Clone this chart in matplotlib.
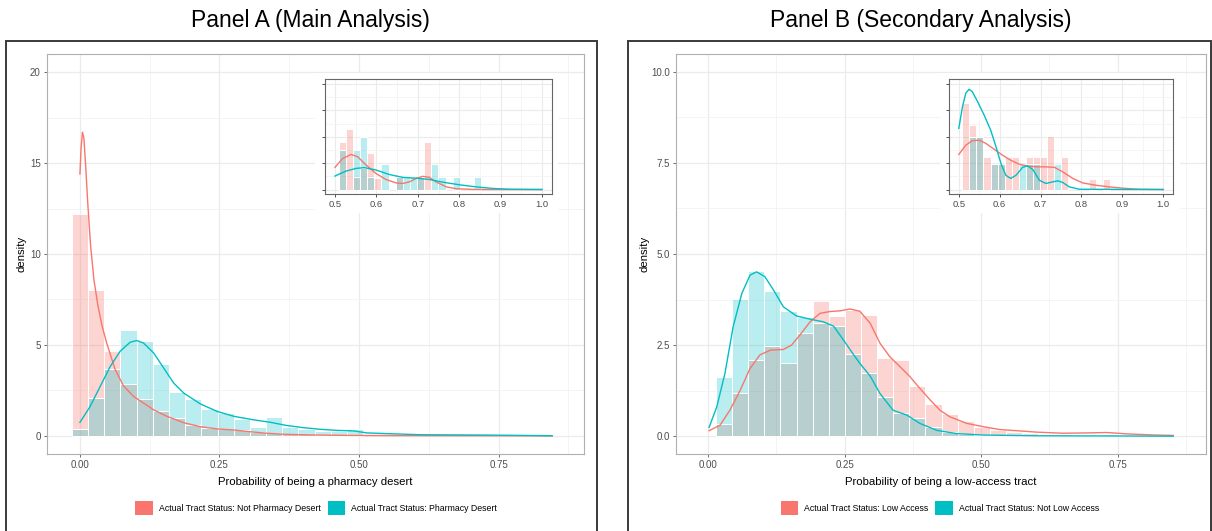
import matplotlib.pyplot as plt
from matplotlib.patches import Patch, Rectangle
import numpy as np

plt.rcParams['font.family'] = ['Liberation Sans', 'DejaVu Sans']

RED = '#F8766D'
TEAL = '#00BFC4'

# ---- Panel A (main analysis) ----
a_bin_width = 0.029
a_hist_not_desert = [12.2, 8.0, 4.65, 2.85, 2.0, 1.34, 1.0, 0.57, 0.42, 0.37,
                     0.3, 0.2, 0.15, 0.1, 0.08, 0.06, 0.05, 0.05]
a_hist_desert = [0.37, 2.1, 3.7, 5.8, 5.24, 3.97, 2.4, 2.0, 1.5, 1.25,
                 0.93, 0.51, 1.01, 0.46, 0.38, 0.27, 0.27, 0.38]
a_kde_x_not_desert = [0.0, 0.002, 0.0045, 0.007, 0.01, 0.014, 0.019, 0.025, 0.032,
                      0.04, 0.048, 0.063, 0.078, 0.096, 0.114, 0.132, 0.156, 0.186,
                      0.216, 0.246, 0.276, 0.306, 0.336, 0.37, 0.43, 0.49, 0.6, 0.75, 0.846]
a_kde_y_not_desert = [14.4, 15.8, 16.7, 16.4, 15.0, 12.8, 10.5, 8.6, 7.2,
                      6.0, 5.1, 3.65, 2.75, 2.17, 1.8, 1.43, 1.07, 0.72,
                      0.5, 0.38, 0.32, 0.22, 0.14, 0.08, 0.04, 0.02, 0.01, 0.005, 0.0]
a_kde_x_desert = [0.0, 0.018, 0.036, 0.054, 0.072, 0.09, 0.102, 0.114, 0.132, 0.15,
                  0.168, 0.186, 0.216, 0.246, 0.276, 0.311, 0.34, 0.37, 0.4, 0.43,
                  0.46, 0.49, 0.514, 0.561, 0.609, 0.729, 0.8, 0.846]
a_kde_y_desert = [0.74, 1.6, 2.7, 3.8, 4.65, 5.15, 5.24, 5.1, 4.56, 3.73,
                  2.9, 2.35, 1.75, 1.34, 1.07, 0.88, 0.75, 0.57, 0.45, 0.36,
                  0.3, 0.27, 0.16, 0.11, 0.06, 0.04, 0.02, 0.0]

# inset A (probabilities above 0.5), bins centred on 0.5 + k*w
inset_bin_width = 0.01724
a_inset_not_desert = [1.82, 2.3, 0.46, 0.8, 1.37, 0.42, 0, 0, 0.46, 0,
                      0, 0.46, 1.82, 0, 0, 0, 0, 0, 0, 0]
a_inset_desert = [1.5, 0, 1.5, 1.98, 0.48, 0, 0.97, 0, 0.46, 0.46,
                  0.46, 0.46, 0, 0.97, 0.46, 0, 0.46, 0, 0, 0.46]
a_inset_kx_not_desert = [0.5, 0.519, 0.539, 0.555, 0.575, 0.599, 0.623, 0.648, 0.664,
                         0.68, 0.696, 0.712, 0.728, 0.744, 0.769, 0.793, 0.84, 1.0]
a_inset_ky_not_desert = [0.84, 1.18, 1.33, 1.24, 0.93, 0.61, 0.38, 0.25, 0.23,
                         0.29, 0.42, 0.5, 0.46, 0.29, 0.1, 0.03, 0.0, 0.0]
a_inset_kx_desert = [0.5, 0.527, 0.551, 0.571, 0.599, 0.631, 0.664, 0.696, 0.728,
                     0.76, 0.8, 0.841, 0.881, 0.922, 1.0]
a_inset_ky_desert = [0.51, 0.7, 0.8, 0.83, 0.74, 0.57, 0.46, 0.43, 0.38,
                     0.28, 0.18, 0.1, 0.04, 0.01, 0.0]

# ---- Panel B (secondary analysis) ----
b_bin_width = 0.0295
b_hist_low = [0.33, 1.19, 2.1, 2.47, 2.02, 2.82, 3.71, 3.3, 3.45, 3.32,
              2.15, 2.1, 1.38, 0.87, 0.62, 0.41, 0.26, 0.18, 0.12, 0.09,
              0.07, 0.05, 0.04, 0.04, 0.05, 0.03]
b_hist_not_low = [1.61, 3.77, 4.53, 3.99, 3.44, 3.28, 3.11, 3.02, 2.25, 1.74,
                  1.08, 0.64, 0.51, 0.24, 0.12, 0.05, 0.03, 0.02]
b_kde_x_low = [0.002, 0.022, 0.04, 0.059, 0.077, 0.095, 0.114, 0.138, 0.153, 0.168,
               0.187, 0.205, 0.223, 0.242, 0.26, 0.278, 0.297, 0.315, 0.333, 0.352,
               0.37, 0.388, 0.407, 0.425, 0.443, 0.474, 0.504, 0.535, 0.565, 0.602,
               0.65, 0.7, 0.73, 0.77, 0.82, 0.852]
b_kde_y_low = [0.15, 0.3, 0.71, 1.26, 1.86, 2.23, 2.36, 2.38, 2.5, 2.77,
               3.14, 3.37, 3.42, 3.44, 3.49, 3.43, 3.1, 2.55, 2.18, 1.9,
               1.63, 1.31, 0.99, 0.71, 0.53, 0.35, 0.26, 0.18, 0.15, 0.11,
               0.08, 0.09, 0.1, 0.06, 0.03, 0.02]
b_kde_x_not_low = [0.002, 0.016, 0.031, 0.046, 0.062, 0.077, 0.089, 0.104, 0.12, 0.138,
                   0.162, 0.187, 0.211, 0.23, 0.248, 0.266, 0.278, 0.297, 0.315, 0.339,
                   0.364, 0.388, 0.419, 0.455, 0.504, 0.6, 0.852]
b_kde_y_not_low = [0.24, 0.8, 1.72, 3.0, 3.92, 4.42, 4.51, 4.38, 4.01, 3.55,
                   3.3, 3.21, 3.14, 3.02, 2.64, 2.25, 2.0, 1.65, 1.17, 0.71,
                   0.58, 0.35, 0.16, 0.07, 0.03, 0.01, 0.0]

b_inset_low = [3.28, 2.46, 2.0, 1.22, 0.97, 0.97, 1.22, 1.22, 0, 1.22,
               1.22, 1.22, 2.04, 0, 1.22, 0, 0, 0, 0.39, 0, 0.39]
b_inset_not_low = [0, 2.0, 2.0, 0, 0.97, 0.97, 0, 0, 0.97, 0.97,
                   0.97, 0, 0, 0.97, 0, 0, 0, 0, 0, 0, 0]
b_inset_kx_low = [0.5, 0.517, 0.533, 0.55, 0.566, 0.587, 0.607, 0.627, 0.648, 0.668,
                  0.689, 0.713, 0.734, 0.754, 0.779, 0.803, 0.836, 0.868, 0.909, 0.942, 1.0]
b_inset_ky_low = [1.33, 1.68, 1.85, 1.87, 1.75, 1.52, 1.3, 1.11, 0.96, 0.89,
                  0.86, 0.86, 0.84, 0.67, 0.42, 0.25, 0.16, 0.1, 0.04, 0.01, 0.0]
b_inset_kx_not_low = [0.5, 0.509, 0.517, 0.525, 0.533, 0.546, 0.562, 0.578, 0.591, 0.603,
                      0.615, 0.627, 0.64, 0.656, 0.668, 0.681, 0.697, 0.713, 0.73, 0.742,
                      0.754, 0.77, 0.795, 1.0]
b_inset_ky_not_low = [2.32, 3.14, 3.65, 3.8, 3.71, 3.33, 2.82, 2.25, 1.62, 0.99,
                      0.54, 0.42, 0.54, 0.84, 0.9, 0.76, 0.35, 0.23, 0.29, 0.33,
                      0.27, 0.1, 0.01, 0.0]


def draw_hist(ax, start, width, heights, color, alpha):
    h = np.array(heights, dtype=float)
    x = start + np.arange(len(h)) * width
    keep = h > 0
    ax.bar(x[keep], h[keep], width=width, color=color, alpha=alpha,
           edgecolor='none', zorder=2)
    ax.bar(x[keep], h[keep], width=width, facecolor='none',
           edgecolor='white', linewidth=0.7, zorder=2.1)


def style_main(ax, xlim, ylim, yticks, ylabels, yminor):
    ax.set_xticks([0, 0.25, 0.5, 0.75])
    ax.set_xticklabels(['0.00', '0.25', '0.50', '0.75'])
    ax.set_xticks([-0.125, 0.125, 0.375, 0.625, 0.875], minor=True)
    ax.set_yticks(yticks)
    ax.set_yticklabels(ylabels)
    ax.set_yticks(yminor, minor=True)
    ax.set_xlim(*xlim)
    ax.set_ylim(*ylim)
    ax.grid(True, which='major', color='#EBEBEB', linewidth=0.9, zorder=0)
    ax.grid(True, which='minor', color='#F2F2F2', linewidth=0.6, zorder=0)
    ax.set_axisbelow(True)
    ax.tick_params(which='major', length=2.5, width=0.6, color='#555555',
                   labelsize=7, labelcolor='#4D4D4D', pad=2)
    ax.tick_params(which='minor', length=0)
    for s in ax.spines.values():
        s.set_color('#B0B0B0')
        s.set_linewidth(0.8)
    ax.set_ylabel('density', fontsize=8.2)


def style_inset(ax):
    ax.set_xticks([0.5, 0.6, 0.7, 0.8, 0.9, 1.0])
    ax.set_xticklabels(['0.5', '0.6', '0.7', '0.8', '0.9', '1.0'])
    ax.set_xticks(np.arange(0.55, 1.0, 0.1), minor=True)
    ax.set_yticks([0, 1, 2, 3, 4])
    ax.set_yticklabels([])
    ax.set_yticks([0.5, 1.5, 2.5, 3.5], minor=True)
    ax.set_xlim(0.476, 1.024)
    ax.set_ylim(-0.17, 4.19)
    ax.grid(True, which='major', color='#EBEBEB', linewidth=0.8)
    ax.grid(True, which='minor', color='#F2F2F2', linewidth=0.5)
    ax.set_axisbelow(True)
    ax.tick_params(which='major', length=2.5, width=0.6, color='#333333',
                   labelsize=6.8, labelcolor='#4D4D4D', pad=2)
    ax.tick_params(which='minor', length=0)
    for s in ax.spines.values():
        s.set_color('#666666')
        s.set_linewidth(0.8)


fig = plt.figure(figsize=(12.12, 5.31), dpi=100)
W, H = 1212.0, 531.0


def fax(x0, y0, x1, y1):
    return [x0 / W, 1 - y1 / H, (x1 - x0) / W, (y1 - y0) / H]


# outer panel boxes
for x0, x1 in [(6, 597), (628, 1211)]:
    fig.patches.append(Rectangle((x0 / W, -0.1), (x1 - x0) / W, 0.1 + 1 - 41 / H,
                                 transform=fig.transFigure, fill=False,
                                 edgecolor='#3A3A3A', linewidth=1.4, zorder=0))

fig.text(310 / W, 1 - 21 / H, 'Panel A (Main Analysis)', fontsize=16.5,
         ha='center', va='center')
fig.text(921 / W, 1 - 21 / H, 'Panel B (Secondary Analysis)', fontsize=16.5,
         ha='center', va='center')

# ---- Panel A ----
axA = fig.add_axes(fax(47, 54, 584, 454))
draw_hist(axA, 0.0, a_bin_width, a_hist_not_desert, RED, 0.3)
draw_hist(axA, 0.0, a_bin_width, a_hist_desert, TEAL, 0.27)
axA.plot(a_kde_x_not_desert, a_kde_y_not_desert, color=RED, lw=1.0, zorder=3)
axA.plot(a_kde_x_desert, a_kde_y_desert, color=TEAL, lw=1.0, zorder=3)
style_main(axA, (-0.059, 0.903), (-1.0, 21.0), [0, 5, 10, 15, 20],
           ['0', '5', '10', '15', '20'], [2.5, 7.5, 12.5, 17.5])
axA.yaxis.set_label_coords(-0.038, 0.5)
axA.set_xlabel('Probability of being a pharmacy desert', fontsize=8.2)
axA.xaxis.set_label_coords(0.5, -0.058)

bgA = fig.add_axes(fax(315, 73, 558, 213))
bgA.axis('off')
bgA.add_patch(Rectangle((0, 0), 1, 1, transform=bgA.transAxes, color='white'))
insA = fig.add_axes(fax(325, 79, 552, 194))
draw_hist(insA, 0.5 + inset_bin_width, inset_bin_width, a_inset_not_desert, RED, 0.3)
draw_hist(insA, 0.5 + inset_bin_width, inset_bin_width, a_inset_desert, TEAL, 0.27)
insA.plot(a_inset_kx_not_desert, a_inset_ky_not_desert, color=RED, lw=1.0, zorder=3)
insA.plot(a_inset_kx_desert, a_inset_ky_desert, color=TEAL, lw=1.0, zorder=3)
style_inset(insA)

# ---- Panel B ----
axB = fig.add_axes(fax(676, 54, 1206, 454))
draw_hist(axB, b_bin_width, b_bin_width, b_hist_low, RED, 0.3)
draw_hist(axB, b_bin_width, b_bin_width, b_hist_not_low, TEAL, 0.27)
axB.plot(b_kde_x_low, b_kde_y_low, color=RED, lw=1.0, zorder=3)
axB.plot(b_kde_x_not_low, b_kde_y_not_low, color=TEAL, lw=1.0, zorder=3)
style_main(axB, (-0.0586, 0.912), (-0.49, 10.49), [0, 2.5, 5, 7.5, 10],
           ['0.0', '2.5', '5.0', '7.5', '10.0'], [1.25, 3.75, 6.25, 8.75])
axB.yaxis.set_label_coords(-0.05, 0.5)
axB.set_xlabel('Probability of being a low-access tract', fontsize=8.2)
axB.xaxis.set_label_coords(0.5, -0.058)

bgB = fig.add_axes(fax(940, 73, 1180, 213))
bgB.axis('off')
bgB.add_patch(Rectangle((0, 0), 1, 1, transform=bgB.transAxes, color='white'))
insB = fig.add_axes(fax(949, 79, 1173, 194))
draw_hist(insB, 0.5 + inset_bin_width, inset_bin_width, b_inset_low, RED, 0.3)
draw_hist(insB, 0.5 + inset_bin_width, inset_bin_width, b_inset_not_low, TEAL, 0.27)
insB.plot(b_inset_kx_low, b_inset_ky_low, color=RED, lw=1.0, zorder=3)
insB.plot(b_inset_kx_not_low, b_inset_ky_not_low, color=TEAL, lw=1.0, zorder=3)
style_inset(insB)

# ---- legends ----
legend_kw = dict(loc='center', ncol=2, frameon=False, fontsize=6.3,
                 handlelength=2.0, handleheight=2.0, handletextpad=0.7,
                 columnspacing=0.8)
fig.legend([Patch(facecolor=RED, edgecolor='none'), Patch(facecolor=TEAL, edgecolor='none')],
           ['Actual Tract Status: Not Pharmacy Desert', 'Actual Tract Status: Pharmacy Desert'],
           bbox_to_anchor=(316 / W, 1 - 508 / H), **legend_kw)
fig.legend([Patch(facecolor=RED, edgecolor='none'), Patch(facecolor=TEAL, edgecolor='none')],
           ['Actual Tract Status: Low Access', 'Actual Tract Status: Not Low Access'],
           bbox_to_anchor=(940 / W, 1 - 508 / H), **legend_kw)

fig.savefig('out.png', dpi=100)
